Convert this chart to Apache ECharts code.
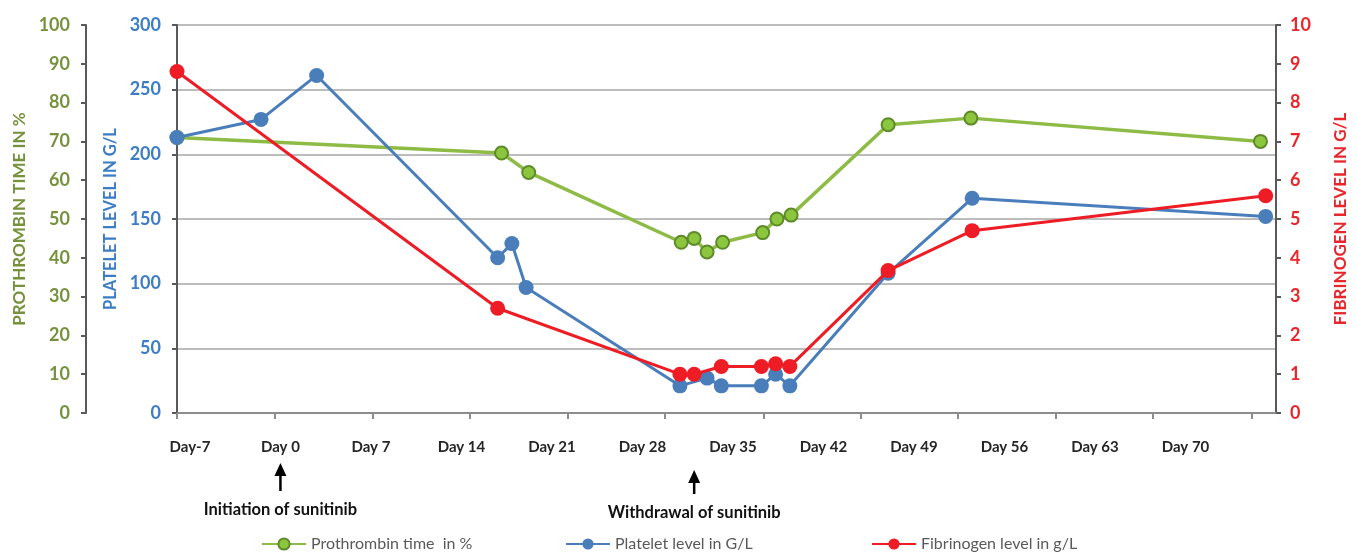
<!DOCTYPE html>
<html>
<head>
<meta charset="utf-8">
<script src="https://cdn.jsdelivr.net/npm/echarts@6/dist/echarts.min.js"></script>
<style>
html,body{margin:0;padding:0;background:#fff;}
#chart{width:1357px;height:552px;}
</style>
</head>
<body>
<div id="chart"></div>
<script>
// ---- Data (days relative to sunitinib initiation) ----
var xLabelDays = [-7, 0, 7, 14, 21, 28, 35, 42, 49, 56, 63, 70];
var xTickDays = [-8, -0.47, 7.14, 14.67, 22.2, 29.74, 37.35, 44.88, 52.42, 59.95, 67.48, 75.09];

var ptDays = [-8, 17.1, 19.2, 31, 32, 33, 34.2, 37.3, 38.4, 39.5, 47, 53.4, 75.8];
var ptValues = [71, 67, 62, 44, 45, 41.5, 44, 46.5, 50, 51, 74.3, 76, 70];

var pltDays = [-8, -1.5, 2.8, 16.8, 17.9, 19.0, 30.9, 33.0, 34.1, 37.2, 38.3, 39.4, 47, 53.5, 76.2];
var pltValues = [213, 227, 261, 120, 131, 97, 21, 27, 21, 21, 30, 21, 108, 166, 152];

var fibDays = [-8, 16.8, 30.9, 32, 34.1, 37.2, 38.3, 39.4, 47, 53.5, 76.2];
var fibValues = [8.8, 2.7, 1.0, 1.0, 1.2, 1.2, 1.27, 1.2, 3.67, 4.7, 5.6];

var annotations = [
  {day: 0, text: 'Initiation of sunitinib'},
  {day: 32, text: 'Withdrawal of sunitinib'}
];

var seriesNames = ['Prothrombin time  in %', 'Platelet level in G/L', 'Fibrinogen level in g/L'];

function pairs(d, v) { return d.map(function (x, i) { return [x, v[i]]; }); }

var GREEN = '#8dbb45', GREEN_DARK = '#5e8a2a', GREEN_TXT = '#76923c';
var BLUE = '#4a7ebb', BLUE_TXT = '#3c7dc6';
var RED = '#ee1c24', RED_TXT = '#e8262b';
var FONT = 'Lato';

var chart = echarts.init(document.getElementById('chart'));

function yAx(opt) {
  return Object.assign({
    type: 'value',
    nameLocation: 'middle',
    nameRotate: 90,
    axisLine: {show: true, onZero: false, lineStyle: {color: '#595959', width: 2}},
    axisTick: {show: true, length: 5, lineStyle: {color: '#595959', width: 2}},
    splitLine: {show: false}
  }, opt);
}

var option = {
  animation: false,
  backgroundColor: '#fff',
  grid: {left: 177, right: 74, top: 25, bottom: 139, containLabel: false},
  legend: [0, 1, 2].map(function (i) {
    return {
      data: [seriesNames[i]],
      left: [256, 560, 866][i],
      top: 531,
      itemWidth: 44,
      itemHeight: 14,
      textStyle: {color: '#595959', fontSize: 16, fontFamily: FONT}
    };
  }),
  xAxis: {
    type: 'value',
    min: -8,
    max: 77,
    axisLine: {show: true, onZero: false, lineStyle: {color: '#8c8c8c', width: 2}},
    axisTick: {show: true, length: 6, customValues: xTickDays, lineStyle: {color: '#8c8c8c', width: 2}},
    splitLine: {show: false},
    axisLabel: {
      customValues: xLabelDays,
      margin: 27,
      color: '#262626',
      fontSize: 15,
      fontWeight: 'bold',
      fontFamily: FONT,
      formatter: function (v) { return v < 0 ? 'Day' + v : 'Day ' + v; }
    }
  },
  yAxis: [
    yAx({
      name: 'PLATELET LEVEL IN G/L',
      position: 'left', offset: 0,
      min: 0, max: 300, interval: 50,
      nameGap: 55,
      nameTextStyle: {color: BLUE_TXT, fontSize: 16.5, fontWeight: 'bold', fontFamily: FONT},
      axisLabel: {color: BLUE_TXT, fontSize: 18, fontWeight: 'bold', fontFamily: FONT, margin: 16},
      splitLine: {show: true, lineStyle: {color: '#a6a6a6', width: 1.5}}
    }),
    yAx({
      name: 'PROTHROMBIN TIME IN %',
      position: 'left', offset: 91,
      min: 0, max: 100, interval: 10,
      nameGap: 55,
      nameTextStyle: {color: GREEN_TXT, fontSize: 17, fontWeight: 'bold', fontFamily: FONT},
      axisLabel: {color: GREEN_TXT, fontSize: 18, fontWeight: 'bold', fontFamily: FONT, margin: 16}
    }),
    yAx({
      name: 'FIBRINOGEN LEVEL IN G/L',
      position: 'right', offset: 0,
      min: 0, max: 10, interval: 1,
      nameGap: 56,
      nameTextStyle: {color: RED_TXT, fontSize: 17, fontWeight: 'bold', fontFamily: FONT},
      axisLabel: {color: RED_TXT, fontSize: 18, fontWeight: 'bold', fontFamily: FONT, margin: 14}
    })
  ],
  series: [
    {
      name: seriesNames[0], type: 'line', yAxisIndex: 1,
      data: pairs(ptDays, ptValues),
      symbol: 'circle', symbolSize: 13,
      lineStyle: {color: GREEN, width: 3.5},
      itemStyle: {color: '#8cc63f', borderColor: GREEN_DARK, borderWidth: 2},
      z: 2
    },
    {
      name: seriesNames[1], type: 'line', yAxisIndex: 0,
      data: pairs(pltDays, pltValues),
      symbol: 'circle', symbolSize: 15,
      lineStyle: {color: BLUE, width: 3},
      itemStyle: {color: BLUE},
      z: 3
    },
    {
      name: seriesNames[2], type: 'line', yAxisIndex: 2,
      data: pairs(fibDays, fibValues),
      symbol: 'circle', symbolSize: 15,
      lineStyle: {color: RED, width: 3},
      itemStyle: {color: RED},
      z: 4
    }
  ]
};
chart.setOption(option);

// Annotation arrows below the x axis, placed through the axis scale
var graphics = [];
annotations.forEach(function (a, i) {
  var x = chart.convertToPixel({xAxisIndex: 0}, a.day);
  var top = i === 0 ? 463 : 470;
  var bottom = i === 0 ? 491 : 494;
  var ty = i === 0 ? 510 : 513;
  graphics.push({
    type: 'line', silent: true,
    shape: {x1: x, y1: top + 10, x2: x, y2: bottom},
    style: {stroke: '#000', lineWidth: 2.5}
  });
  graphics.push({
    type: 'polygon', silent: true,
    shape: {points: [[x, top], [x - 6, top + 13], [x + 6, top + 13]]},
    style: {fill: '#000'}
  });
  graphics.push({
    type: 'text', silent: true,
    style: {
      x: x, y: ty, text: a.text, align: 'center', verticalAlign: 'middle',
      font: 'bold 16.5px ' + FONT, fill: '#111'
    }
  });
});
chart.setOption({graphic: graphics});
</script>
</body>
</html>
